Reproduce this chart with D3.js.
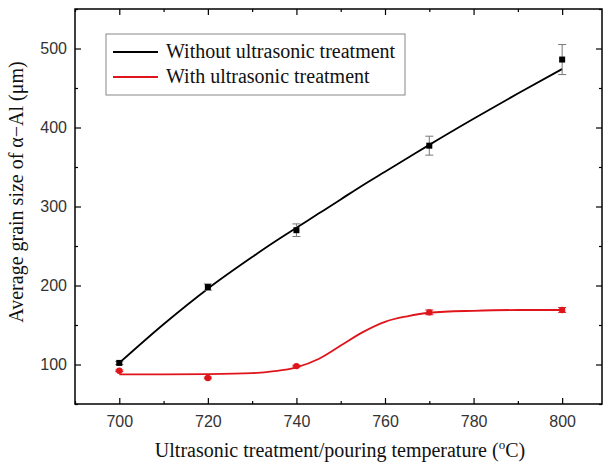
<!DOCTYPE html>
<html>
<head>
<meta charset="utf-8">
<script src="https://cdn.jsdelivr.net/npm/d3@7"></script>
<style>
  body { margin: 0; background: #fff; }
  svg { display: block; }
</style>
</head>
<body>
<svg id="viz" width="604" height="464"></svg>
<script>
// measured points
var temps = [700, 720, 740, 770, 800];
var withoutUS = [102, 198, 270, 377, 486];
var withoutErr = [2, 4, 8, 12, 19];
var withUS = [92, 83, 98, 166, 169];
var withErr = [1, 1, 1, 3, 3];

// fitted curves
var fitTemps = [700, 710, 720, 730, 735, 740, 745, 750, 755, 760, 765, 770, 780, 790, 800];
var fitWithout = [102, 151, 196, 236, 255, 273, 291, 309, 327, 344, 361, 378, 411, 443, 474];
var fitWith = [87.5, 87.5, 87.8, 89, 91.5, 96.5, 107, 124, 141, 154, 161, 165.5, 168, 169, 169];

var xTicks = [700, 720, 740, 760, 780, 800];
var yTicks = [100, 200, 300, 400, 500];
var seriesNames = ['Without ultrasonic treatment', 'With ultrasonic treatment'];
var seriesColors = ['#000000', '#e0141b'];

var margin = { left: 75, top: 9, right: 2, bottom: 60 };
var width = 604 - margin.left - margin.right;
var height = 464 - margin.top - margin.bottom;

var svg = d3.select('#viz');
var g = svg.append('g').attr('transform', 'translate(' + margin.left + ',' + margin.top + ')');

var x = d3.scaleLinear().domain([690, 809]).range([0, width]);
var y = d3.scaleLinear().domain([50, 550]).range([height, 0]);

var minorX = d3.range(690, 810, 10).filter(function (d) { return xTicks.indexOf(d) < 0; });
var minorY = d3.range(50, 551, 50).filter(function (d) { return yTicks.indexOf(d) < 0; });

// axes, ticks inward
function styleAxis(sel) {
  sel.select('.domain').remove();
  sel.selectAll('line').attr('stroke', '#000').attr('stroke-width', 1.2);
  sel.selectAll('text')
    .attr('font-family', 'Liberation Sans, Arial, sans-serif')
    .attr('font-size', '16px')
    .attr('fill', '#333');
}

g.append('g').attr('transform', 'translate(0,' + height + ')')
  .call(d3.axisBottom(x).tickValues(xTicks).tickFormat(d3.format('d')).tickSizeInner(-6).tickPadding(12))
  .call(styleAxis);
g.append('g').attr('transform', 'translate(0,' + height + ')')
  .call(d3.axisBottom(x).tickValues(minorX).tickFormat('').tickSizeInner(-3))
  .call(styleAxis);
g.append('g')
  .call(d3.axisTop(x).tickValues(xTicks).tickFormat('').tickSizeInner(-6))
  .call(styleAxis);
g.append('g')
  .call(d3.axisTop(x).tickValues(minorX).tickFormat('').tickSizeInner(-3))
  .call(styleAxis);

g.append('g')
  .call(d3.axisLeft(y).tickValues(yTicks).tickFormat(d3.format('d')).tickSizeInner(-6).tickPadding(8))
  .call(styleAxis);
g.append('g')
  .call(d3.axisLeft(y).tickValues(minorY).tickFormat('').tickSizeInner(-3))
  .call(styleAxis);
g.append('g').attr('transform', 'translate(' + width + ',0)')
  .call(d3.axisRight(y).tickValues(yTicks).tickFormat('').tickSizeInner(-6))
  .call(styleAxis);
g.append('g').attr('transform', 'translate(' + width + ',0)')
  .call(d3.axisRight(y).tickValues(minorY).tickFormat('').tickSizeInner(-3))
  .call(styleAxis);

g.append('rect')
  .attr('width', width).attr('height', height)
  .attr('fill', 'none').attr('stroke', '#000').attr('stroke-width', 1.5);

// fit curves
var line = d3.line()
  .x(function (d) { return x(d[0]); })
  .y(function (d) { return y(d[1]); })
  .curve(d3.curveMonotoneX);

g.append('path')
  .datum(fitTemps.map(function (t, i) { return [t, fitWithout[i]]; }))
  .attr('d', line).attr('fill', 'none')
  .attr('stroke', seriesColors[0]).attr('stroke-width', 1.8);
g.append('path')
  .datum(fitTemps.map(function (t, i) { return [t, fitWith[i]]; }))
  .attr('d', line).attr('fill', 'none')
  .attr('stroke', seriesColors[1]).attr('stroke-width', 1.8);

// error bars
function errorBars(vals, errs, color) {
  var eb = g.append('g').attr('stroke', color).attr('stroke-width', 1);
  temps.forEach(function (t, i) {
    var cx = x(t), y1 = y(vals[i] + errs[i]), y2 = y(vals[i] - errs[i]);
    eb.append('line').attr('x1', cx).attr('x2', cx).attr('y1', y1).attr('y2', y2);
    eb.append('line').attr('x1', cx - 4).attr('x2', cx + 4).attr('y1', y1).attr('y2', y1);
    eb.append('line').attr('x1', cx - 4).attr('x2', cx + 4).attr('y1', y2).attr('y2', y2);
  });
}
errorBars(withoutUS, withoutErr, '#777');
errorBars(withUS, withErr, '#e0141b');

// markers
g.selectAll('.sq')
  .data(temps)
  .enter()
  .append('rect')
  .attr('x', function (d) { return x(d) - 3; })
  .attr('y', function (d, i) { return y(withoutUS[i]) - 3; })
  .attr('width', 6).attr('height', 6)
  .attr('fill', seriesColors[0]);

g.selectAll('.dot')
  .data(temps)
  .enter()
  .append('circle')
  .attr('cx', function (d) { return x(d); })
  .attr('cy', function (d, i) { return y(withUS[i]); })
  .attr('r', 3.2)
  .attr('fill', seriesColors[1]);

// legend
var lg = svg.append('g').attr('transform', 'translate(106,34)');
lg.append('rect').attr('width', 299).attr('height', 61)
  .attr('fill', '#fff').attr('stroke', '#888').attr('stroke-width', 1);
seriesNames.forEach(function (name, i) {
  var ly = 18 + i * 25;
  lg.append('line').attr('x1', 7).attr('x2', 52).attr('y1', ly).attr('y2', ly)
    .attr('stroke', seriesColors[i]).attr('stroke-width', 1.8);
  lg.append('text').attr('x', 60).attr('y', ly + 6)
    .attr('font-family', 'Liberation Serif, Times New Roman, serif')
    .attr('font-size', '20px').attr('fill', '#111')
    .text(name);
});

// axis titles
var xt = svg.append('text')
  .attr('x', 340)
  .attr('y', 457)
  .attr('text-anchor', 'middle')
  .attr('font-family', 'Liberation Serif, Times New Roman, serif')
  .attr('font-size', '20px').attr('fill', '#111');
xt.append('tspan').text('Ultrasonic treatment/pouring temperature (');
xt.append('tspan').attr('font-size', '13px').attr('dy', -8).text('o');
xt.append('tspan').attr('dy', 8).text('C)');

svg.append('text')
  .attr('transform', 'translate(23,192) rotate(-90)')
  .attr('text-anchor', 'middle')
  .attr('font-family', 'Liberation Serif, Times New Roman, serif')
  .attr('font-size', '20px').attr('fill', '#111')
  .text('Average grain size of α\u2212Al (μm)');
</script>
</body>
</html>
